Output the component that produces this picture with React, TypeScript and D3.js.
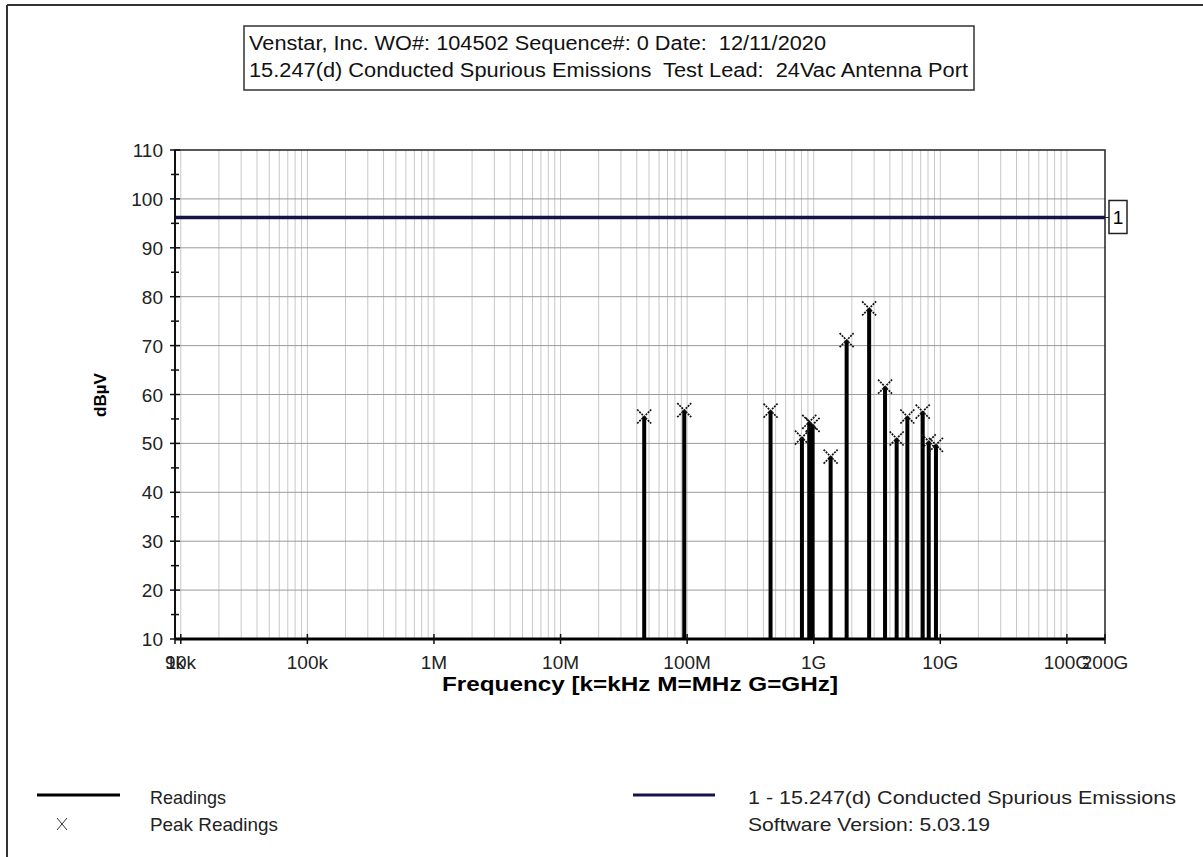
import { useEffect, useRef } from "react";
import * as d3 from "d3";

// readings: frequency (Hz) and level (dBµV)
const readingFreqs = [
  45.8e6, 94.9e6, 456e6, 807e6, 922e6, 980e6, 1.36e9, 1.82e9, 2.74e9, 3.66e9,
  4.52e9, 5.49e9, 7.26e9, 8.1e9, 9.24e9,
];
const readingLevels = [
  55.5, 56.8, 56.7, 51.2, 54.4, 53.8, 47.3, 71.1, 77.6, 61.6, 51.0, 55.5, 56.5,
  50.4, 49.7,
];
const limitLevel = 96.2;

const xTickValues = [9e3, 1e4, 1e5, 1e6, 1e7, 1e8, 1e9, 1e10, 1e11, 2e11];
const xTickLabels = ["9k", "10k", "100k", "1M", "10M", "100M", "1G", "10G", "100G", "200G"];
const yTickValues = [10, 20, 30, 40, 50, 60, 70, 80, 90, 100, 110];

const titleLines = [
  "Venstar, Inc. WO#: 104502 Sequence#: 0 Date:  12/11/2020",
  "15.247(d) Conducted Spurious Emissions  Test Lead:  24Vac Antenna Port",
];

const FONT = "'Liberation Sans', Arial, sans-serif";

export default function App() {
  const svgRef = useRef<SVGSVGElement>(null);

  useEffect(() => {
    const svg = d3.select(svgRef.current);
    svg.selectAll("*").remove();

    const left = 175;
    const right = 1105;
    const top = 150;
    const bottom = 639;

    const x = d3.scaleLog().domain([9e3, 200e9]).range([left, right]);
    const y = d3.scaleLinear().domain([10, 110]).range([bottom, top]);

    svg.append("rect").attr("width", 1203).attr("height", 857).attr("fill", "#fff");

    // window frame
    svg.append("line").attr("x1", 7).attr("x2", 1203).attr("y1", 5).attr("y2", 5)
      .attr("stroke", "#333").attr("stroke-width", 2);
    svg.append("line").attr("x1", 7).attr("x2", 7).attr("y1", 5).attr("y2", 857)
      .attr("stroke", "#333").attr("stroke-width", 2);

    // title box
    svg.append("rect").attr("x", 244).attr("y", 26).attr("width", 730).attr("height", 64)
      .attr("fill", "#fff").attr("stroke", "#333").attr("stroke-width", 1.5);
    const titleWidths = [577, 719];
    titleLines.forEach((t, i) => {
      svg.append("text").attr("x", 249).attr("y", 50 + i * 27)
        .attr("textLength", titleWidths[i]).attr("lengthAdjust", "spacingAndGlyphs")
        .style("font-family", FONT).style("font-size", "20px").style("white-space", "pre")
        .attr("fill", "#111").text(t);
    });

    // vertical log grid
    const gridFreqs: number[] = [];
    for (let e = 4; e <= 11; e++) {
      for (let m = 1; m <= 9; m++) {
        const f = m * Math.pow(10, e);
        if (f > 9e3 && f < 200e9) gridFreqs.push(f);
      }
    }
    svg.append("g").selectAll("line").data(gridFreqs).join("line")
      .attr("x1", (d) => x(d)).attr("x2", (d) => x(d))
      .attr("y1", top).attr("y2", bottom)
      .attr("stroke", "#c8c8c8").attr("stroke-width", 1);

    // horizontal grid
    svg.append("g").selectAll("line").data(yTickValues.slice(1, -1)).join("line")
      .attr("x1", left).attr("x2", right)
      .attr("y1", (d) => y(d)).attr("y2", (d) => y(d))
      .attr("stroke", "#9a9a9a").attr("stroke-width", 1);

    // plot frame
    svg.append("rect").attr("x", left).attr("y", top)
      .attr("width", right - left).attr("height", bottom - top)
      .attr("fill", "none").attr("stroke", "#222").attr("stroke-width", 1.5);

    // limit line
    svg.append("line").attr("x1", left).attr("x2", right)
      .attr("y1", y(limitLevel)).attr("y2", y(limitLevel))
      .attr("stroke", "#14144a").attr("stroke-width", 3.5);
    svg.append("line").attr("x1", right).attr("x2", 1109)
      .attr("y1", y(limitLevel)).attr("y2", y(limitLevel))
      .attr("stroke", "#222").attr("stroke-width", 1);
    svg.append("rect").attr("x", 1109).attr("y", y(limitLevel) - 17)
      .attr("width", 18).attr("height", 33)
      .attr("fill", "#fff").attr("stroke", "#222").attr("stroke-width", 1.5);
    svg.append("text").attr("x", 1118).attr("y", y(limitLevel) + 7)
      .attr("text-anchor", "middle").style("font-family", FONT).style("font-size", "19px")
      .text("1");

    // readings baseline and bars
    svg.append("line").attr("x1", left).attr("x2", right)
      .attr("y1", y(10)).attr("y2", y(10))
      .attr("stroke", "#000").attr("stroke-width", 3);
    const readings = readingFreqs.map((f, i) => ({ f, v: readingLevels[i] }));
    svg.append("g").selectAll("line").data(readings).join("line")
      .attr("x1", (d) => x(d.f)).attr("x2", (d) => x(d.f))
      .attr("y1", y(10)).attr("y2", (d) => y(d.v))
      .attr("stroke", "#000").attr("stroke-width", 4);

    // peak markers
    const s = 7;
    const marks = svg.append("g").selectAll("g").data(readings).join("g")
      .attr("transform", (d) => `translate(${x(d.f)},${y(d.v)})`);
    marks.append("path")
      .attr("d", `M${-s},${-s}L${s},${s}M${-s},${s}L${s},${-s}`)
      .attr("stroke", "#111").attr("stroke-width", 1.7).attr("stroke-dasharray", "2,1");

    // y axis ticks
    const yMinor = d3.range(15, 110, 10);
    svg.append("g").selectAll("line").data(yTickValues).join("line")
      .attr("x1", left - 5).attr("x2", left + 5)
      .attr("y1", (d) => y(d)).attr("y2", (d) => y(d))
      .attr("stroke", "#111").attr("stroke-width", 1.5);
    svg.append("g").selectAll("line").data(yMinor).join("line")
      .attr("x1", left - 4).attr("x2", left + 4)
      .attr("y1", (d) => y(d)).attr("y2", (d) => y(d))
      .attr("stroke", "#111").attr("stroke-width", 1.5);
    svg.append("line").attr("x1", left).attr("x2", left).attr("y1", top).attr("y2", bottom)
      .attr("stroke", "#111").attr("stroke-width", 2);
    svg.append("g").selectAll("text").data(yTickValues).join("text")
      .attr("x", left - 12).attr("y", (d) => y(d) + 7)
      .attr("text-anchor", "end").style("font-family", FONT).style("font-size", "19px")
      .attr("fill", "#222").text((d) => d);

    // x axis ticks
    svg.append("g").selectAll("line").data(xTickValues).join("line")
      .attr("x1", (d) => x(d)).attr("x2", (d) => x(d))
      .attr("y1", bottom - 5).attr("y2", bottom + 5)
      .attr("stroke", "#111").attr("stroke-width", 1.5);
    svg.append("g").selectAll("text").data(xTickValues).join("text")
      .attr("x", (d) => x(d)).attr("y", bottom + 30)
      .attr("text-anchor", "middle").style("font-family", FONT).style("font-size", "19px")
      .attr("fill", "#222").text((d, i) => xTickLabels[i]);

    // axis titles
    svg.append("text").attr("x", 442).attr("y", 691)
      .attr("textLength", 396).attr("lengthAdjust", "spacingAndGlyphs")
      .style("font-family", FONT).style("font-size", "20px")
      .style("font-weight", "bold").text("Frequency [k=kHz M=MHz G=GHz]");
    svg.append("text").attr("transform", "translate(106,395) rotate(-90)")
      .attr("text-anchor", "middle").style("font-family", FONT).style("font-size", "17px")
      .style("font-weight", "bold").text("dBµV");

    // legend
    const legendText = (tx: number, ty: number, t: string, w: number) =>
      svg.append("text").attr("x", tx).attr("y", ty)
        .attr("textLength", w).attr("lengthAdjust", "spacingAndGlyphs")
        .style("font-family", FONT).style("font-size", "19px").attr("fill", "#222").text(t);
    svg.append("line").attr("x1", 37).attr("x2", 120).attr("y1", 795).attr("y2", 795)
      .attr("stroke", "#000").attr("stroke-width", 3);
    legendText(150, 804, "Readings", 76);
    svg.append("path").attr("d", "M57,818L67,830M57,830L67,818")
      .attr("stroke", "#333").attr("stroke-width", 1);
    legendText(150, 831, "Peak Readings", 128);
    svg.append("line").attr("x1", 633).attr("x2", 715).attr("y1", 795).attr("y2", 795)
      .attr("stroke", "#14144a").attr("stroke-width", 3);
    legendText(748, 804, "1 - 15.247(d) Conducted Spurious Emissions", 428);
    legendText(748, 831, "Software Version: 5.03.19", 242);
  }, []);

  return (
    <svg
      ref={svgRef}
      width={1203}
      height={857}
      style={{ position: "absolute", left: 0, top: 0, display: "block" }}
    />
  );
}
